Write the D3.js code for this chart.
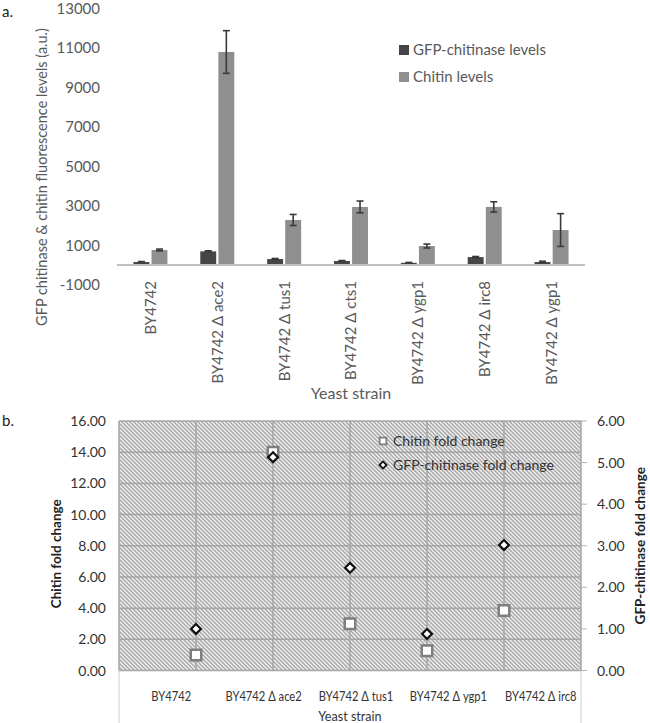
<!DOCTYPE html>
<html>
<head>
<meta charset="utf-8">
<script src="https://cdn.jsdelivr.net/npm/d3@7"></script>
<style>
  html, body { margin: 0; padding: 0; background: #fff; }
  svg { display: block; font-family: Lato, "Open Sans", sans-serif; }
</style>
</head>
<body>
<svg id="chart" width="650" height="723"></svg>
<script>
// ---------- Panel a data ----------
const strainsA = ["BY4742", "BY4742 Δ ace2", "BY4742 Δ tus1", "BY4742 Δ cts1", "BY4742 Δ ygp1", "BY4742 Δ irc8", "BY4742 Δ ygp1 "];
const gfpLevels = [150, 690, 300, 200, 110, 400, 150];
const gfpErr = [25, 30, 30, 25, 20, 30, 40];
const chitinLevels = [760, 10785, 2280, 2940, 960, 2940, 1770];
const chitinErr = [45, 1080, 280, 300, 100, 260, 830];
const yTicksA = [-1000, 1000, 3000, 5000, 7000, 9000, 11000, 13000];
const seriesA = ["GFP-chitinase levels", "Chitin levels"];

// ---------- Panel b data ----------
const strainsB = ["BY4742", "BY4742 Δ ace2", "BY4742 Δ tus1", "BY4742 Δ ygp1", "BY4742 Δ irc8"];
const chitinFold = [1.00, 14.0, 3.0, 1.26, 3.85];
const gfpFold = [1.00, 5.13, 2.47, 0.88, 3.02];
const yTicksL = [0, 2, 4, 6, 8, 10, 12, 14, 16];
const yTicksR = [0, 1, 2, 3, 4, 5, 6];
const seriesB = ["Chitin fold change", "GFP-chitinase fold change"];

const svg = d3.select("#chart");
const defs = svg.append("defs");
const pat = defs.append("pattern").attr("id", "hatch")
  .attr("patternUnits", "userSpaceOnUse").attr("width", 4).attr("height", 4);
pat.append("rect").attr("width", 4).attr("height", 4).attr("fill", "#efefef");
pat.append("path").attr("d", "M-1,-1 L5,5 M-1,3 L1,5 M3,-1 L5,1")
  .attr("stroke", "#a4a4a4").attr("stroke-width", 1.3);

// =============== Panel a ===============
const colA = { dark: "#454545", light: "#8f8f8f", text: "#595959" };
const xA = d3.scaleBand().domain(strainsA).range([117, 585]);
const yA = d3.scaleLinear().domain([-1000, 13000]).range([284.75, 8.25]);
const gA = svg.append("g");

svg.append("text").attr("x", 2).attr("y", 17).attr("font-size", 15).attr("fill", "#222").text("a.");

// y tick labels
gA.selectAll(".yt").data(yTicksA).join("text")
  .attr("x", 100).attr("y", d => yA(d)).attr("dy", "0.36em")
  .attr("text-anchor", "end").attr("font-size", 15).attr("fill", colA.text)
  .text(d => d);

// y title
gA.append("text")
  .attr("transform", `translate(42,${(12 + 342) / 2}) rotate(-90)`)
  .attr("text-anchor", "middle").attr("dy", "0.35em")
  .attr("font-size", 14.5).attr("fill", colA.text)
  .text("GFP chitinase & chitin fluorescence levels (a.u.)");

// bars
const inner = d3.scaleBand().domain(seriesA).range([-17, 17]).paddingInner(0.12);
const rowsA = strainsA.map((s, i) => ({
  s,
  vals: [
    { key: seriesA[0], v: gfpLevels[i], e: gfpErr[i], c: colA.dark },
    { key: seriesA[1], v: chitinLevels[i], e: chitinErr[i], c: colA.light }
  ]
}));
const grp = gA.selectAll(".grp").data(rowsA).join("g")
  .attr("transform", d => `translate(${xA(d.s) + xA.bandwidth() / 2},0)`);
grp.selectAll("rect").data(d => d.vals).join("rect")
  .attr("x", d => inner(d.key)).attr("width", inner.bandwidth())
  .attr("y", d => yA(d.v)).attr("height", d => yA(0) - yA(d.v))
  .attr("fill", d => d.c);
// error bars
const eb = grp.selectAll(".eb").data(d => d.vals).join("g")
  .attr("stroke", "#3a3a3a").attr("stroke-width", 1.6).attr("fill", "none");
eb.append("line")
  .attr("x1", d => inner(d.key) + inner.bandwidth() / 2).attr("x2", d => inner(d.key) + inner.bandwidth() / 2)
  .attr("y1", d => yA(d.v + d.e)).attr("y2", d => yA(d.v - d.e));
eb.append("line")
  .attr("x1", d => inner(d.key) + inner.bandwidth() / 2 - 3.5).attr("x2", d => inner(d.key) + inner.bandwidth() / 2 + 3.5)
  .attr("y1", d => yA(d.v + d.e)).attr("y2", d => yA(d.v + d.e));
eb.append("line")
  .attr("x1", d => inner(d.key) + inner.bandwidth() / 2 - 3.5).attr("x2", d => inner(d.key) + inner.bandwidth() / 2 + 3.5)
  .attr("y1", d => yA(d.v - d.e)).attr("y2", d => yA(d.v - d.e));

// zero axis line
gA.append("line").attr("x1", 117).attr("x2", 585).attr("y1", yA(0)).attr("y2", yA(0))
  .attr("stroke", "#bfbfbf").attr("stroke-width", 2);

// x labels (rotated)
gA.selectAll(".xl").data(strainsA).join("text")
  .attr("transform", d => `translate(${xA(d) + xA.bandwidth() / 2},281) rotate(-90)`)
  .attr("text-anchor", "end").attr("dy", "0.36em")
  .attr("font-size", 15).attr("fill", colA.text)
  .text(d => d.trim());

gA.append("text").attr("x", 351).attr("y", 393).attr("dy", "0.35em")
  .attr("text-anchor", "middle").attr("font-size", 16).attr("fill", colA.text)
  .text("Yeast strain");

// legend a
const legA = gA.selectAll(".lg").data([{ k: seriesA[0], c: colA.dark }, { k: seriesA[1], c: colA.light }]).join("g")
  .attr("transform", (d, i) => `translate(399,${50 + i * 27})`);
legA.append("rect").attr("x", 0).attr("y", -5).attr("width", 10).attr("height", 10).attr("fill", d => d.c);
legA.append("text").attr("x", 14).attr("dy", "0.36em").attr("font-size", 15).attr("fill", colA.text).text(d => d.k);

// =============== Panel b ===============
const L = 119, R = 581, T = 421, B = 670.5;
const xB = d3.scaleLinear().domain([0, strainsB.length + 1]).range([L, R]);
const xBand = d3.scaleBand().domain(strainsB).range([L, R]);
const yL = d3.scaleLinear().domain([0, 16]).range([B, T]);
const yR = d3.scaleLinear().domain([0, 6]).range([B, T]);
const gB = svg.append("g");
const txtB = "#333";

svg.append("text").attr("x", 2).attr("y", 426).attr("font-size", 15).attr("fill", "#222").text("b.");

gB.append("rect").attr("x", L).attr("y", T).attr("width", R - L).attr("height", B - T).attr("fill", "url(#hatch)");

// grid lines
gB.selectAll(".hg").data(yTicksL).join("line")
  .attr("x1", L).attr("x2", R).attr("y1", d => yL(d)).attr("y2", d => yL(d))
  .attr("stroke", "#a6a6a6").attr("stroke-width", 1.5);
gB.selectAll(".vg").data(d3.range(0, strainsB.length + 2)).join("line")
  .attr("x1", d => xB(d)).attr("x2", d => xB(d)).attr("y1", T).attr("y2", B)
  .attr("stroke", "#a6a6a6").attr("stroke-width", 1.5);

// separators under plot
gB.selectAll(".sep").data([L, R]).join("line")
  .attr("x1", d => d).attr("x2", d => d).attr("y1", B).attr("y2", 723)
  .attr("stroke", "#d0d0d0").attr("stroke-width", 1);

// left ticks
gB.selectAll(".ylt").data(yTicksL).join("text")
  .attr("x", 106).attr("y", d => yL(d)).attr("dy", "0.36em")
  .attr("text-anchor", "end").attr("font-size", 14).attr("fill", txtB)
  .text(d => d.toFixed(2));
// right ticks
gB.selectAll(".yrm").data(yTicksR).join("line")
  .attr("x1", R).attr("x2", R + 6).attr("y1", d => yR(d)).attr("y2", d => yR(d))
  .attr("stroke", "#b0b0b0").attr("stroke-width", 1);
gB.selectAll(".yrt").data(yTicksR).join("text")
  .attr("x", 597).attr("y", d => yR(d)).attr("dy", "0.36em")
  .attr("text-anchor", "start").attr("font-size", 14).attr("fill", txtB)
  .text(d => d.toFixed(2));

// axis titles
gB.append("text").attr("transform", `translate(56,${(T + B) / 2 + 8}) rotate(-90)`)
  .attr("text-anchor", "middle").attr("dy", "0.35em").attr("font-weight", "bold")
  .attr("font-size", 13.5).attr("fill", "#222").text("Chitin fold change");
gB.append("text").attr("transform", `translate(640,${(T + B) / 2}) rotate(-90)`)
  .attr("text-anchor", "middle").attr("dy", "0.35em").attr("font-weight", "bold")
  .attr("font-size", 13.5).attr("fill", "#222").text("GFP-chitinase fold change");

// x category labels
gB.selectAll(".xbl").data(strainsB).join("text")
  .attr("transform", d => `translate(${xBand(d) + xBand.bandwidth() / 2 + 6},696) scale(0.86,1)`)
  .attr("text-anchor", "middle").attr("dy", "0.35em")
  .attr("font-size", 13).attr("fill", txtB).text(d => d);
gB.append("text").attr("transform", `translate(${(L + R) / 2},716) scale(0.9,1)`)
  .attr("text-anchor", "middle").attr("dy", "0.35em")
  .attr("font-size", 14).attr("fill", txtB).text("Yeast strain");

// markers
const sq = d3.symbol().type(d3.symbolSquare).size(110);
const dm = d3.symbol().type(d3.symbolDiamond2).size(62);
gB.selectAll(".sq").data(chitinFold).join("path")
  .attr("d", sq).attr("transform", (d, i) => `translate(${xB(i + 1)},${yL(d)})`)
  .attr("fill", "#fff").attr("stroke", "#7f7f7f").attr("stroke-width", 2.5);
gB.selectAll(".dm").data(gfpFold).join("path")
  .attr("d", dm).attr("transform", (d, i) => `translate(${xB(i + 1)},${yR(d)})`)
  .attr("fill", "#fff").attr("stroke", "#111").attr("stroke-width", 2.2);

// legend b
const legB = gB.append("g");
legB.append("path").attr("d", d3.symbol().type(d3.symbolSquare).size(45)())
  .attr("transform", "translate(383,441)").attr("fill", "#fff").attr("stroke", "#7f7f7f").attr("stroke-width", 1.8);
legB.append("text").attr("x", 393).attr("y", 441).attr("dy", "0.36em").attr("font-size", 14).attr("fill", txtB).text(seriesB[0]);
legB.append("path").attr("d", d3.symbol().type(d3.symbolDiamond2).size(32)())
  .attr("transform", "translate(383,465)").attr("fill", "#fff").attr("stroke", "#111").attr("stroke-width", 1.8);
legB.append("text").attr("x", 393).attr("y", 465).attr("dy", "0.36em").attr("font-size", 14).attr("fill", txtB).text(seriesB[1]);
</script>
</body>
</html>
